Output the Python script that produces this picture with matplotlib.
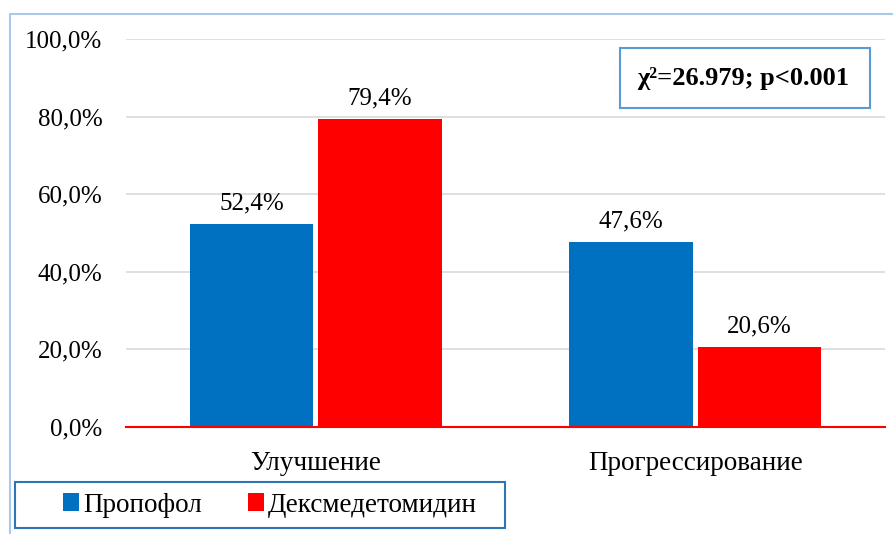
import matplotlib
matplotlib.use("Agg")
import matplotlib.pyplot as plt
from matplotlib.patches import Rectangle
from matplotlib.lines import Line2D
import numpy as np

plt.rcParams['font.family'] = ['Liberation Serif', 'DejaVu Serif']

categories = ['Улучшение', 'Прогрессирование']
series_names = ['Пропофол', 'Дексмедетомидин']
propofol = [52.4, 47.6]
dexmed = [79.4, 20.6]
yticks = [0, 20, 40, 60, 80, 100]
stat_text = 'χ²=26.979; p<0.001'

blue = '#0070C0'
red = '#FF0000'
frame_blue = '#A9C8EA'

W, H = 893, 534
fig = plt.figure(figsize=(W / 100, H / 100), dpi=100)
ax = fig.add_axes([126 / W, 107 / H, (885 - 126) / W, (495 - 107) / H])

x = np.arange(len(categories))
width = 0.325
gap = 0.007
b1 = ax.bar(x - width / 2 - gap, propofol, width, color=blue, label=series_names[0], zorder=3)
b2 = ax.bar(x + width / 2 + gap, dexmed, width, color=red, label=series_names[1], zorder=3)

# value labels above each bar
for bars, vals in ((b1, propofol), (b2, dexmed)):
    for rect, v in zip(bars, vals):
        ax.annotate(f'{v:.1f}%'.replace('.', ','),
                    (rect.get_x() + rect.get_width() / 2, v),
                    xytext=(0, 7), textcoords='offset points',
                    ha='center', va='bottom', fontsize=18)

ax.set_xlim(-0.5, 1.5)
ax.set_ylim(0, 100)
ax.set_yticks(yticks)
ax.set_yticklabels([f'{t:.1f}%'.replace('.', ',') for t in yticks], fontsize=18)
ax.set_xticks(x)
ax.set_xticklabels(categories, fontsize=19.5)
ax.tick_params(axis='both', length=0)
ax.tick_params(axis='y', pad=17)
ax.tick_params(axis='x', pad=17)

ax.grid(axis='y', color='#D9D9D9', linewidth=1.2, zorder=0)
for s in ('top', 'right', 'left'):
    ax.spines[s].set_visible(False)
ax.spines['bottom'].set_color(red)
ax.spines['bottom'].set_linewidth(1.5)
ax.spines['bottom'].set_zorder(4)

# statistics box
fig.patches.append(Rectangle((620 / W, 426 / H), 250 / W, 60 / H, transform=fig.transFigure,
                             facecolor='white', edgecolor='#5B9BD5', linewidth=1.5, zorder=5))
fig.text(743 / W, 456 / H, stat_text, ha='center', va='center',
         fontsize=19, fontweight='bold', zorder=6)

# outer chart frame (left and top edges)
fig.add_artist(Line2D([10 / W, 10 / W, 1.0], [0.0, 520 / H, 520 / H],
                      transform=fig.transFigure, color=frame_blue, linewidth=1.5))

# legend with its own wider frame
fig.patches.append(Rectangle((15 / W, 6 / H), 490 / W, 46 / H, transform=fig.transFigure,
                             facecolor='white', edgecolor='#2E75B6', linewidth=1.5, zorder=1))
leg = fig.legend(handles=[b1, b2], loc='center', bbox_to_anchor=(270 / W, 29 / H),
                 ncol=2, fontsize=19.5, frameon=False,
                 handlelength=0.6, handleheight=0.6, handletextpad=0.15,
                 columnspacing=1.7, borderpad=0.3)

fig.savefig('out.png', dpi=100)
